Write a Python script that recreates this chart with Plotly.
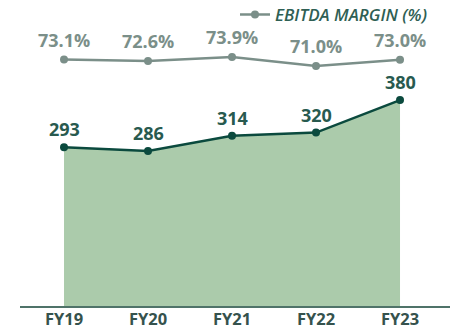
import plotly.graph_objects as go

# Fiscal years and series
years = ["FY19", "FY20", "FY21", "FY22", "FY23"]
ebitda = [293, 286, 314, 320, 380]
margin = [73.1, 72.6, 73.9, 71.0, 73.0]

main_color = "#0b4a3e"
label_color = "#285a4f"
margin_color = "#7b8f89"
fill_color = "#abcbab"
font_family = "Open Sans"

fig = go.Figure()

# EBITDA area with line and markers
fig.add_trace(go.Scatter(
    x=years, y=ebitda, mode="lines+markers",
    line=dict(color=main_color, width=2.5),
    marker=dict(color=main_color, size=8),
    fill="tozeroy", fillcolor=fill_color,
    showlegend=False, yaxis="y", hoverinfo="skip",
))

# EBITDA margin line on secondary axis
fig.add_trace(go.Scatter(
    x=years, y=margin, mode="lines+markers",
    name="<i>EBITDA MARGIN (%)</i>",
    line=dict(color=margin_color, width=2.5),
    marker=dict(color=margin_color, size=8),
    yaxis="y2", hoverinfo="skip",
))

annotations = []
for yr, v in zip(years, ebitda):
    annotations.append(dict(
        x=yr, y=v, xref="x", yref="y", text=f"<b>{v}</b>",
        showarrow=False, yshift=18,
        font=dict(family=font_family, size=18, color=label_color),
    ))
for yr, v in zip(years, margin):
    annotations.append(dict(
        x=yr, y=v, xref="x", yref="y2", text=f"<b>{v:.1f}%</b>",
        showarrow=False, yshift=20,
        font=dict(family=font_family, size=18, color=margin_color),
    ))

fig.update_layout(
    width=455, height=331,
    margin=dict(l=20, r=5, t=0, b=25, autoexpand=False),
    paper_bgcolor="white", plot_bgcolor="white",
    font=dict(family=font_family),
    xaxis=dict(
        type="category", range=[-0.524, 4.595],
        showgrid=False, zeroline=False,
        showline=True, linecolor="#4f7369", linewidth=2,
        ticks="", ticklabelstandoff=-3,
        tickfont=dict(family=font_family, size=16.5, color="#35524d", weight=700),
    ),
    yaxis=dict(range=[0, 564.6], visible=False, showgrid=False, zeroline=False),
    yaxis2=dict(range=[-6.4, 92.3], overlaying="y", visible=False,
                showgrid=False, zeroline=False),
    legend=dict(
        x=0.5, y=1.01, xanchor="left", yanchor="top",
        font=dict(family=font_family, size=17, color="#2f5f54", weight=600),
        bgcolor="rgba(0,0,0,0)",
    ),
    annotations=annotations,
    showlegend=True,
)

fig.write_html("out.html")
